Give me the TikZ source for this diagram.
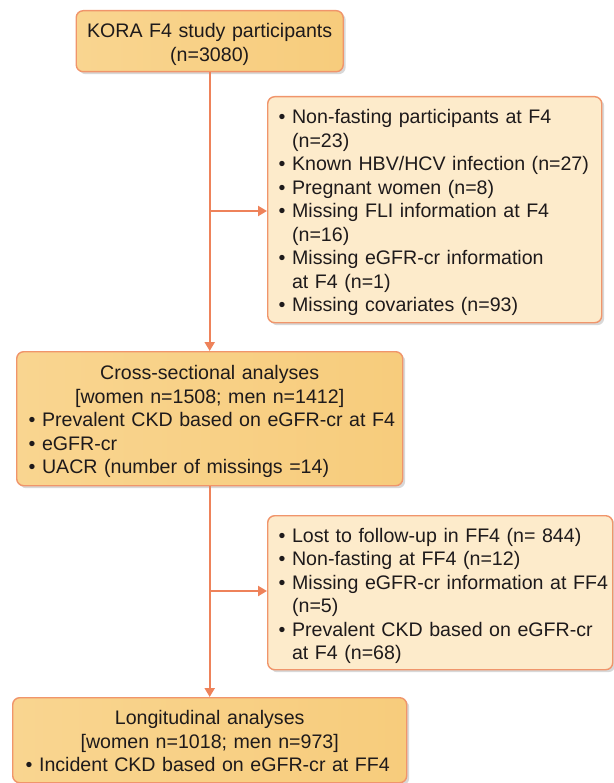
\documentclass[tikz,border=0pt]{standalone}
\usepackage{fontspec}
\setmainfont{Liberation Sans}
\usetikzlibrary{arrows.meta,shadows}
\definecolor{mainL}{HTML}{F9D590}
\definecolor{mainR}{HTML}{F7CC7C}
\definecolor{exfill}{HTML}{FDEBCB}
\definecolor{boxborder}{HTML}{F0956B}
\definecolor{connline}{HTML}{EE825A}
\definecolor{ink}{HTML}{1E1A1B}
\newcommand\bl[1]{\par\noindent\strut\mbox{•\ #1}}
\newcommand\cl[1]{\par\noindent\strut\mbox{\phantom{•\ }#1}}
\newcommand\hd[1]{\par\noindent\hbox to\linewidth{\hss\strut #1\hss}}
\begin{document}
\begin{tikzpicture}[x=1pt,y=-1pt,
  txtfont/.style={font=\fontsize{19.6pt}{23.5pt}\selectfont, text=ink},
  boxbase/.style={draw=boxborder, line width=1.4pt, rounded corners=7pt,
    drop shadow={shadow xshift=2.5pt, shadow yshift=-2.5pt, opacity=0.28, fill=black!55},
    inner ysep=0pt, align=left, anchor=north west, txtfont},
  mainbox/.style={boxbase, left color=mainL, right color=mainR, inner xsep=12pt},
  exbox/.style={boxbase, fill=exfill, inner xsep=11pt},
  conn/.style={draw=connline, line width=2.3pt, -{Triangle[length=9pt,width=10pt]}}]
\useasboundingbox (0,0) rectangle (613,783);

\node[mainbox, minimum width=267pt, minimum height=61pt, text width=243pt] (top) at (75.5,10)
  {\hd{KORA F4 study participants}\hd{(n=3080)}};

\node[exbox, minimum width=334pt, minimum height=226pt, text width=312pt] (ex1) at (267,96)
  {\bl{Non-fasting participants at F4}\cl{(n=23)}\bl{Known HBV/HCV infection (n=27)}%
   \bl{Pregnant women (n=8)}\bl{Missing FLI information at F4}\cl{(n=16)}%
   \bl{Missing eGFR-cr information}\cl{at F4 (n=1)}\bl{Missing covariates (n=93)}};

\node[mainbox, minimum width=386pt, minimum height=134pt, text width=362pt] (cross) at (16,351)
  {\hd{Cross-sectional analyses}\hd{[women n=1508; men n=1412]}%
   \bl{Prevalent CKD based on eGFR-cr at F4}\bl{eGFR-cr}\bl{UACR (number of missings =14)}};

\node[exbox, minimum width=345pt, minimum height=154pt, text width=323pt] (ex2) at (267,515)
  {\bl{Lost to follow-up in FF4 (n= 844)}\bl{Non-fasting at FF4 (n=12)}%
   \bl{Missing eGFR-cr information at FF4}\cl{(n=5)}%
   \bl{Prevalent CKD based on eGFR-cr}\cl{at F4 (n=68)}};

\node[mainbox, inner xsep=13pt, minimum width=394pt, minimum height=85pt, text width=368pt] (long) at (12,697)
  {\hd{Longitudinal analyses}\hd{[women n=1018; men n=973]}%
   \bl{Incident CKD based on eGFR-cr at FF4}};

\coordinate (j1) at (209,211);
\coordinate (j2) at (209,591);
\draw[conn] (top.south) -- (cross.north);
\draw[conn] (j1) -- (j1 -| ex1.west);
\draw[conn] (cross.south) -- (long.north);
\draw[conn] (j2) -- (j2 -| ex2.west);
\end{tikzpicture}
\end{document}
